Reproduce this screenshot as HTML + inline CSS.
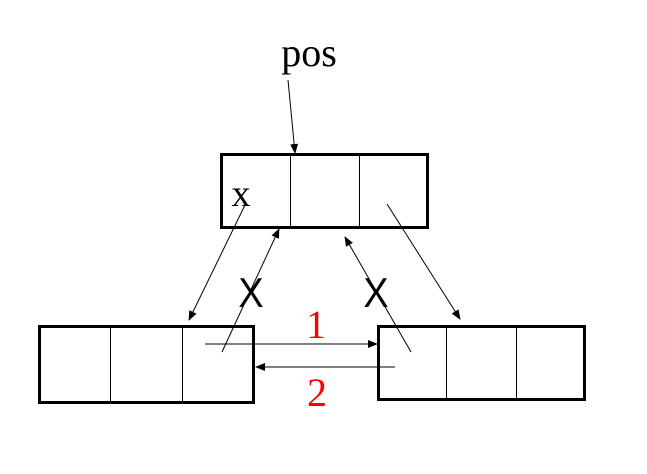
<!DOCTYPE html>
<html><head><meta charset="utf-8"><style>body{margin:0;background:#fff}svg{display:block}</style></head>
<body>
<svg width="647" height="474" viewBox="0 0 647 474">
<defs><marker id="ah" markerWidth="10" markerHeight="8" refX="9" refY="4" orient="auto" markerUnits="userSpaceOnUse"><path d="M0,0L10,4L0,8z" fill="#000"/></marker></defs>
<text x="309" y="66" font-family="Liberation Serif, serif" font-size="40" text-anchor="middle">pos</text>
<line x1="288" y1="80" x2="295" y2="153" stroke="#000" stroke-width="1" marker-end="url(#ah)"/>
<g fill="none" stroke="#000">
<rect x="221.5" y="154.5" width="206" height="73" stroke-width="3"/>
<line x1="290.5" y1="155" x2="290.5" y2="227"/><line x1="359.5" y1="155" x2="359.5" y2="227"/>
</g>
<text x="241" y="206" font-family="Liberation Serif, serif" font-size="38" text-anchor="middle">x</text>
<g fill="none" stroke="#000">
<rect x="39.5" y="326.5" width="214" height="76" stroke-width="3"/>
<line x1="110.5" y1="327" x2="110.5" y2="402"/><line x1="182.5" y1="327" x2="182.5" y2="402"/>
</g>
<g fill="none" stroke="#000">
<rect x="378.5" y="326.5" width="206" height="73" stroke-width="3"/>
<line x1="446.5" y1="327" x2="446.5" y2="399"/><line x1="516.5" y1="327" x2="516.5" y2="399"/>
</g>
<g stroke="#000" stroke-width="1">
<line x1="245" y1="205" x2="189" y2="320" marker-end="url(#ah)"/>
<line x1="222" y1="352" x2="279" y2="229" marker-end="url(#ah)"/>
<line x1="411" y1="352" x2="345" y2="237" marker-end="url(#ah)"/>
<line x1="387" y1="204" x2="460" y2="319" marker-end="url(#ah)"/>
<line x1="205" y1="344" x2="377" y2="344" marker-end="url(#ah)"/>
<line x1="395" y1="367" x2="256" y2="367" marker-end="url(#ah)"/>
</g>
<text x="251" y="307" font-family="Liberation Sans, sans-serif" font-size="42" text-anchor="middle" transform="translate(251 0) scale(0.9 1) translate(-251 0)">X</text>
<text x="376" y="307" font-family="Liberation Sans, sans-serif" font-size="42" text-anchor="middle" transform="translate(376 0) scale(0.9 1) translate(-376 0)">X</text>
<text x="316" y="338" font-family="Liberation Serif, serif" font-size="40" fill="#f00" text-anchor="middle">1</text>
<text x="317" y="406" font-family="Liberation Serif, serif" font-size="40" fill="#f00" text-anchor="middle">2</text>
</svg>
</body></html>
